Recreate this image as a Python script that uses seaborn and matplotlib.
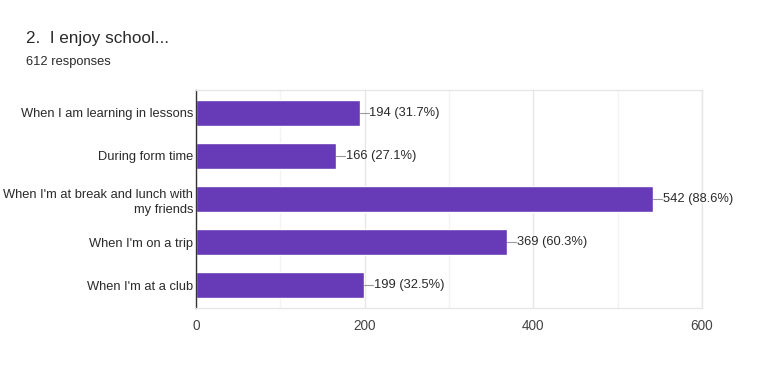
import matplotlib
matplotlib.use('Agg')
import matplotlib.pyplot as plt
import pandas as pd
import seaborn as sns

categories = [
    'When I am learning in lessons',
    'During form time',
    "When I'm at break and lunch with\nmy friends",
    "When I'm on a trip",
    "When I'm at a club",
]
counts = [194, 166, 542, 369, 199]
percents = [31.7, 27.1, 88.6, 60.3, 32.5]
x_ticks = [0, 200, 400, 600]

BAR_COLOR = '#673ab7'
TEXT_COLOR = '#2a2a2a'

sns.set_theme(style='white')
plt.rcParams['font.family'] = ['Liberation Sans', 'DejaVu Sans']

df = pd.DataFrame({'category': categories, 'count': counts})

fig = plt.figure(figsize=(7.79, 3.71), dpi=100)
ax = fig.add_axes([0.2516, 0.1698, 0.6496, 0.5876])

sns.barplot(data=df, y='category', x='count', color=BAR_COLOR, saturation=1,
            width=0.6, ax=ax, orient='h')

ax.set_xlim(0, 600)
ax.set_xticks(x_ticks)
ax.set_xticks([100, 300, 500], minor=True)
ax.grid(axis='x', which='major', color='#e6e6e6', linewidth=1)
ax.grid(axis='x', which='minor', color='#f3f3f3', linewidth=1)
ax.set_axisbelow(True)
ax.set_xlabel('')
ax.set_ylabel('')
ax.tick_params(axis='both', length=0, labelsize=9.3, colors=TEXT_COLOR, pad=2)
ax.tick_params(axis='x', pad=8, labelsize=9.8, colors='#444444')
for lbl in ax.get_yticklabels():
    lbl.set_linespacing(1.4)

for side in ['top', 'right', 'bottom']:
    ax.spines[side].set_color('#e6e6e6')
    ax.spines[side].set_linewidth(1)
ax.spines['left'].set_color('#333333')
ax.spines['left'].set_linewidth(1)

for i, (c, p) in enumerate(zip(counts, percents)):
    ax.plot([c, c + 11], [i, i], color='#999999', linewidth=0.8, clip_on=False)
    ax.text(c + 11.5, i, f'{c} ({p}%)', va='center', ha='left',
            fontsize=9.3, color=TEXT_COLOR, clip_on=False)

fig.text(0.033, 0.884, '2.  I enjoy school...', fontsize=12.3, color=TEXT_COLOR)
fig.text(0.033, 0.826, '612 responses', fontsize=9.3, color=TEXT_COLOR)

fig.savefig('out.png', dpi=100)
